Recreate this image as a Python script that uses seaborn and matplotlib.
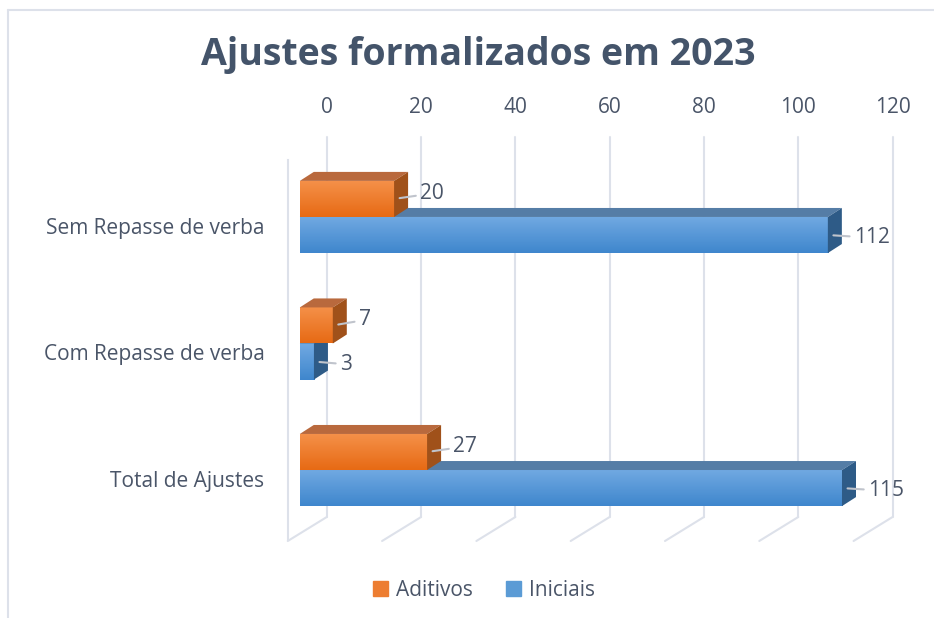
# Ajustes formalizados em 2023 - barras horizontais com efeito 3D

import numpy as np
import pandas as pd
import seaborn as sns
from matplotlib import pyplot as plt
from matplotlib.patches import Polygon
from matplotlib.lines import Line2D
from matplotlib.colors import LinearSegmentedColormap
from matplotlib.transforms import IdentityTransform, ScaledTranslation

categorias = ['Sem Repasse de verba', 'Com Repasse de verba', 'Total de Ajustes']
series = ['Aditivos', 'Iniciais']
aditivos = [20, 7, 27]
iniciais = [112, 3, 115]
ticks = [0, 20, 40, 60, 80, 100, 120]

df = pd.DataFrame({
    'categoria': categorias * 2,
    'tipo': [series[0]] * len(aditivos) + [series[1]] * len(iniciais),
    'valor': aditivos + iniciais,
})

cores = {'Aditivos': '#ED7D31', 'Iniciais': '#5B9BD5'}
frente = {'Aditivos': ('#F5914A', '#E76A14'), 'Iniciais': ('#71AAE2', '#3F86CD')}
topo = {'Aditivos': '#B9693D', 'Iniciais': '#557DA6'}
lado = {'Aditivos': '#A0511A', 'Iniciais': '#2E5B87'}
rot_dy = {'Aditivos': 4, 'Iniciais': -2}
txt = '#4A5568'
grade = '#DDE1EA'
fs = 15

sns.set_theme(style='white')
plt.rcParams['font.family'] = ['Open Sans', 'DejaVu Sans']

W, H = 934, 618
fig = plt.figure(figsize=(W / 100, H / 100), dpi=100)
ax = fig.add_axes([288 / W, (H - 540) / H, (875 - 288) / W, (540 - 137) / H])

sns.barplot(data=df, y='categoria', x='valor', hue='tipo', hue_order=series,
            palette=cores, orient='h', width=0.57, saturation=1, legend=False, ax=ax)
ax.set_xlim(-2.5, 122)
ax.set_ylim(2.553, -0.632)
ax.set_xlabel('')
ax.set_ylabel('')
ax.grid(False)
for s in ['top', 'right', 'bottom']:
    ax.spines[s].set_visible(False)
ax.spines['left'].set_color(grade)
ax.spines['left'].set_linewidth(1.5)
ax.spines['left'].set_bounds(-0.45, 2.553)

ax.xaxis.tick_top()
ax.set_xticks(ticks)
ax.set_xticklabels([str(t) for t in ticks])
ax.tick_params(axis='x', length=0, pad=14, labelsize=fs, labelcolor=txt)
ax.tick_params(axis='y', length=0, pad=17, labelsize=fs, labelcolor=txt)
prof = ScaledTranslation(0.27, 0, fig.dpi_scale_trans)
for lbl in ax.get_xticklabels():
    lbl.set_transform(lbl.get_transform() + prof)
for lbl in ax.get_yticklabels():
    lbl.set_transform(lbl.get_transform() + ScaledTranslation(0, -0.09, fig.dpi_scale_trans))

fig.canvas.draw()
td = ax.transData

# grade no plano de fundo + piso
y_fundo = ax.get_ylim()[1] + (ax.get_ylim()[0] - ax.get_ylim()[1]) * (380 / 403)
for t in ticks:
    ax.plot([t, t], [ax.get_ylim()[1], y_fundo], color=grade, lw=1.5,
            transform=td + prof, zorder=0.5, clip_on=False)
    p1 = td.transform((t, y_fundo)) + np.array([27, 0])
    p2 = td.transform((t, ax.get_ylim()[0])) + np.array([-12, -1])
    ax.add_artist(Line2D([p1[0], p2[0]], [p1[1], p2[1]], color=grade, lw=1.5,
                         transform=IdentityTransform(), zorder=0.5, clip_on=False))

# faces 3D
dx, dy = 14, 9
n = len(categorias)
for i, bar in enumerate(ax.patches[:2 * n]):
    tipo = series[i // n]
    z = 3 if tipo == 'Aditivos' else 2
    x0, y0 = bar.get_x(), bar.get_y()
    w, h = bar.get_width(), bar.get_height()
    bar.set_zorder(z)
    bar.set_edgecolor('none')
    cmap = LinearSegmentedColormap.from_list('g', list(frente[tipo]))
    im = ax.imshow(np.linspace(0, 1, 50).reshape(-1, 1), cmap=cmap, aspect='auto',
                   extent=(x0, x0 + w, y0 + h, y0), origin='upper', zorder=z + 0.01)
    im.set_clip_path(bar)
    tl = td.transform((x0, y0))
    tr = td.transform((x0 + w, y0))
    br = td.transform((x0 + w, y0 + h))
    off = np.array([dx, dy])
    ax.add_artist(Polygon([tl, tr, tr + off, tl + off], closed=True, facecolor=topo[tipo],
                          edgecolor='none', transform=IdentityTransform(), zorder=z + 0.02, clip_on=False))
    ax.add_artist(Polygon([tr, br, br + off, tr + off], closed=True, facecolor=lado[tipo],
                          edgecolor='none', transform=IdentityTransform(), zorder=z + 0.02, clip_on=False))
    ax.annotate(str(int(w)), xy=(x0 + w, y0 + h / 2), xytext=(19, rot_dy[tipo]), textcoords='offset points',
                ha='left', va='center', fontsize=fs, color=txt, zorder=z + 0.03,
                arrowprops=dict(arrowstyle='-', color='#C0C4CC', lw=1.5, shrinkA=1, shrinkB=4))

ax.set_xlim(-2.5, 122)
ax.set_ylim(2.553, -0.632)

fig.text(478 / W, 1 - 55 / H, 'Ajustes formalizados em 2023', ha='center', va='center',
         fontsize=27, fontweight='bold', color='#44546A')

handles = [plt.Rectangle((0, 0), 1, 1, color=cores[s]) for s in series]
fig.legend(handles, series, loc='center', bbox_to_anchor=(484 / W, 1 - 590 / H), ncol=2,
           frameon=False, fontsize=fs, labelcolor=txt, handlelength=0.7, handleheight=0.7,
           handletextpad=0.4, columnspacing=1.6)

# moldura
fig.add_artist(Line2D([8 / W, 8 / W], [0, 1 - 10 / H], color=grade, lw=1.5, transform=fig.transFigure))
fig.add_artist(Line2D([8 / W, 1], [1 - 10 / H, 1 - 10 / H], color=grade, lw=1.5, transform=fig.transFigure))

fig.savefig('out.png', dpi=100, facecolor='white')
